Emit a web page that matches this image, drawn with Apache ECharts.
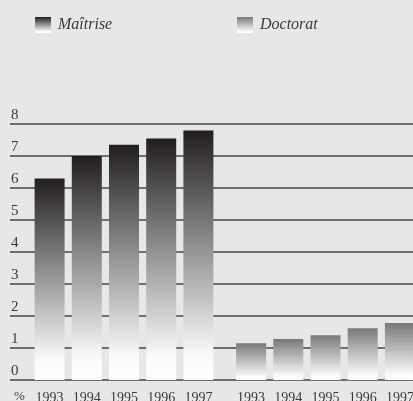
<!DOCTYPE html>
<html>
<head>
<meta charset="utf-8">
<script src="https://cdn.jsdelivr.net/npm/echarts@6/dist/echarts.min.js"></script>
<style>
  html, body { margin: 0; padding: 0; background: #e6e7e9; }
  #chart { width: 413px; height: 401px; }
</style>
</head>
<body>
<div id="chart"></div>
<script>
// années (identiques pour les deux groupes)
const years = ['1993', '1994', '1995', '1996', '1997']
const maitrise = [6.3, 7.0, 7.35, 7.55, 7.8]
const doctorat = [1.15, 1.28, 1.4, 1.62, 1.78]
const yTicks = { min: 0, max: 8, interval: 1 }

const chart = echarts.init(document.getElementById('chart'))

const txt = '#3a3a3a'
const fontFam = '"Liberation Serif", "DejaVu Serif", serif'

function barGradient(top) {
  return new echarts.graphic.LinearGradient(0, 0, 0, 1, [
    { offset: 0, color: top },
    { offset: 0.9, color: '#fafafa' },
    { offset: 1, color: '#ffffff' }
  ])
}

const gridTop = 124
const gridBottom = 21

const legendText = { fontFamily: fontFam, fontStyle: 'italic', fontSize: 16, color: txt, padding: [3, 0, 0, 2] }
const yearLabel = { color: txt, fontFamily: fontFam, fontSize: 14, margin: 11, interval: 0, hideOverlap: false }

chart.setOption({
  backgroundColor: '#e6e7e9',
  animation: false,
  legend: [
    {
      data: ['Maîtrise'], left: 35, top: 17, padding: 0, icon: 'rect',
      itemWidth: 16, itemHeight: 16, textStyle: legendText
    },
    {
      data: ['Doctorat'], left: 237, top: 17, padding: 0, icon: 'rect',
      itemWidth: 16, itemHeight: 16, textStyle: legendText
    }
  ],
  grid: [
    { left: 10, right: 0, top: gridTop, bottom: gridBottom, outerBoundsMode: 'none' },   // lignes de fond
    { left: 31, width: 186, top: gridTop, bottom: gridBottom, outerBoundsMode: 'none' }, // Maîtrise
    { left: 232.5, width: 186, top: gridTop, bottom: gridBottom, outerBoundsMode: 'none' } // Doctorat
  ],
  xAxis: [
    { gridIndex: 0, type: 'category', data: years, show: false },
    {
      gridIndex: 1, type: 'category', data: years,
      axisLine: { show: false }, axisTick: { show: false }, axisLabel: yearLabel
    },
    {
      gridIndex: 2, type: 'category', data: years,
      axisLine: { show: false }, axisTick: { show: false }, axisLabel: yearLabel
    }
  ],
  yAxis: [
    {
      gridIndex: 0, type: 'value', ...yTicks,
      name: '%', nameLocation: 'start', nameGap: 10,
      nameTextStyle: { color: txt, fontFamily: fontFam, fontSize: 13, align: 'left', verticalAlign: 'top', padding: [0, 0, 0, 4] },
      axisLine: { show: false }, axisTick: { show: false },
      axisLabel: {
        inside: true, align: 'left', verticalAlign: 'bottom', margin: 1,
        color: txt, fontFamily: fontFam, fontSize: 15, padding: [0, 0, 1, 0]
      },
      splitLine: { lineStyle: { color: '#6f6f71', width: 1.8 } }
    },
    { gridIndex: 1, type: 'value', ...yTicks, show: false, splitLine: { show: false } },
    { gridIndex: 2, type: 'value', ...yTicks, show: false, splitLine: { show: false } }
  ],
  series: [
    {
      name: 'Maîtrise', type: 'bar', xAxisIndex: 1, yAxisIndex: 1,
      data: maitrise, barWidth: 30,
      itemStyle: { color: barGradient('#221e1f') }
    },
    {
      name: 'Doctorat', type: 'bar', xAxisIndex: 2, yAxisIndex: 2,
      data: doctorat, barWidth: 30,
      itemStyle: { color: barGradient('#79797b') }
    }
  ]
})
</script>
</body>
</html>
